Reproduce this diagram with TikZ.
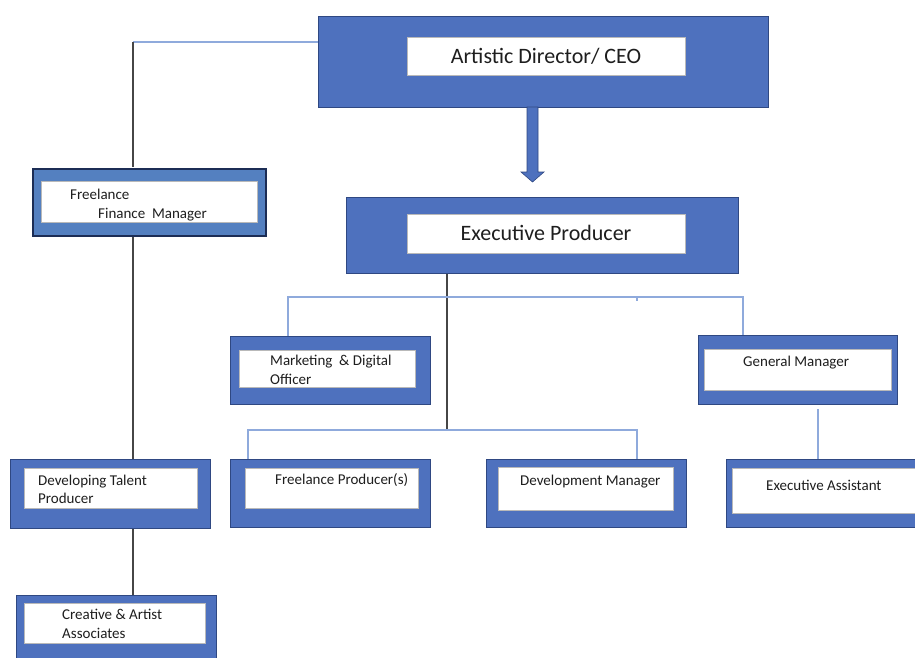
\documentclass[tikz,border=0pt]{standalone}
\usepackage{fontspec}
\setmainfont{Carlito}
\definecolor{boxblue}{RGB}{78,113,190}
\definecolor{boxedge}{RGB}{47,72,130}
\definecolor{finblue}{RGB}{84,128,192}
\definecolor{finedge}{RGB}{28,45,85}
\definecolor{lightline}{RGB}{143,170,220}
\definecolor{darkline}{RGB}{70,70,70}
\definecolor{txt}{RGB}{30,30,30}
\begin{document}
\begin{tikzpicture}[x=1pt,y=-1pt,
  obox/.style={draw=boxedge, line width=0.8pt, fill=boxblue, inner sep=0pt, anchor=north west},
  finbox/.style={draw=finedge, line width=2.4pt, fill=finblue, inner sep=0pt, anchor=north west},
  wbox/.style={draw=gray!55, line width=0.6pt, fill=white, inner sep=0pt, anchor=north west},
  lbl/.style={font=\fontsize{15}{18}\selectfont, text=txt, inner sep=0pt, anchor=base west},
  big/.style={font=\fontsize{22}{26}\selectfont, text=txt, inner sep=0pt},
  lconn/.style={draw=lightline, line width=1.3pt},
  dconn/.style={draw=darkline, line width=1.8pt}]
\useasboundingbox (0,0) rectangle (915,657);
\clip (0,0) rectangle (915,657);
\fill[white] (0,0) rectangle (915,657);

% coordinates for connector routes
\coordinate (lx) at (133,42);
\coordinate (ex1) at (447,273);
\coordinate (ex2) at (447,430);
\coordinate (m1) at (288,297);
\coordinate (g1) at (743,297);
\coordinate (t1) at (637,297);
\coordinate (t2) at (637,301);
\coordinate (f2) at (248,430);
\coordinate (d2) at (637,430);
\coordinate (e1) at (818,409);

% connectors (behind boxes)
\draw[lconn] (lx) -- (318,42);
\draw[dconn] (lx) -- (133,167);
\draw[dconn] (133,236) -- (133,459);
\draw[dconn] (133,528) -- (133,595);
\draw[dconn] (ex1) -- (ex2);
\draw[lconn] (288,336) -- (m1) -- (g1) -- (743,335);
\draw[lconn] (t1) -- (t2);
\draw[lconn] (248,459) -- (f2) -- (d2) -- (637,459);
\draw[lconn] (e1) -- (818,459);

% CEO
\node[obox, minimum width=450pt, minimum height=91pt] (ceo) at (318,16) {};
\node[wbox, minimum width=278pt, minimum height=38pt] (ceoin) at (407,37) {};
\node[big] (ceot) at (546,56) {Artistic Director/ CEO};

% arrow
\coordinate (arr) at (532.5,107);
\draw[draw=boxedge, line width=0.6pt, fill=boxblue]
  (arr) ++(-5.5,0) -- ++(11,0) -- ++(0,65) -- ++(6,0) -- ++(-11.5,10) -- ++(-11.5,-10) -- ++(6,0) -- cycle;

% Executive Producer
\node[obox, minimum width=392pt, minimum height=76pt] (ep) at (346,197) {};
\node[wbox, minimum width=278pt, minimum height=39pt] (epin) at (407,214) {};
\node[big] (ept) at (546,233) {Executive Producer};

% Finance manager
\node[finbox, minimum width=233pt, minimum height=67pt] (fin) at (32,168) {};
\node[wbox, minimum width=216pt, minimum height=41pt] (finin) at (41,181) {};
\node[lbl] (fint1) at (70,199) {Freelance};
\node[lbl] (fint2) at (98,218) {Finance\ \ Manager};

% Developing talent
\node[obox, minimum width=200pt, minimum height=69pt] (dt) at (10,459) {};
\node[wbox, minimum width=173pt, minimum height=40pt] (dtin) at (24,468) {};
\node[lbl] (dtt1) at (38,485) {Developing Talent};
\node[lbl] (dtt2) at (38,503) {Producer};

% Creative
\node[obox, minimum width=200pt, minimum height=75pt] (cr) at (16,595) {};
\node[wbox, minimum width=181pt, minimum height=40pt] (crin) at (24,603) {};
\node[lbl] (crt1) at (62,619) {Creative \& Artist};
\node[lbl] (crt2) at (62,638) {Associates};

% Marketing
\node[obox, minimum width=200pt, minimum height=68pt] (mk) at (230,336) {};
\node[wbox, minimum width=176pt, minimum height=37pt] (mkin) at (239,350) {};
\node[lbl] (mkt1) at (270,365) {Marketing\ \ \& Digital};
\node[lbl] (mkt2) at (270,384) {Officer};

% General manager
\node[obox, minimum width=199pt, minimum height=69pt] (gm) at (698,335) {};
\node[wbox, minimum width=187pt, minimum height=41pt] (gmin) at (704,349) {};
\node[lbl] (gmt) at (743,366) {General Manager};

% Freelance producer
\node[obox, minimum width=200pt, minimum height=68pt] (fp) at (230,459) {};
\node[wbox, minimum width=173pt, minimum height=40pt] (fpin) at (245,468) {};
\node[lbl] (fpt) at (275,484) {Freelance Producer(s)};

% Development manager
\node[obox, minimum width=200pt, minimum height=68pt] (dm) at (486,459) {};
\node[wbox, minimum width=175pt, minimum height=43pt] (dmin) at (498,467) {};
\node[lbl] (dmt) at (520,485) {Development Manager};

% Executive assistant
\node[obox, minimum width=200pt, minimum height=68pt] (ea) at (726,459) {};
\node[wbox, minimum width=200pt, minimum height=45pt] (eain) at (732,468) {};
\node[lbl] (eat) at (766,490) {Executive Assistant};
\end{tikzpicture}
\end{document}
